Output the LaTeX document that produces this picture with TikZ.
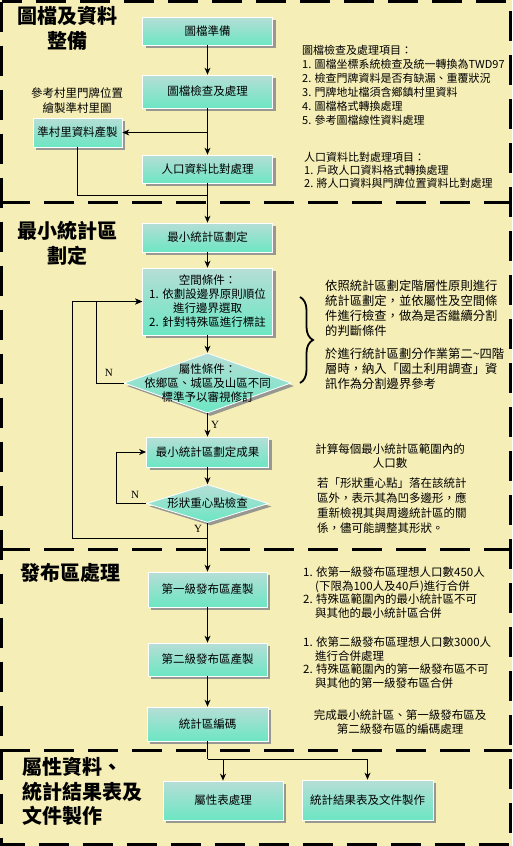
\documentclass[tikz,border=0pt]{standalone}
\usepackage{fontspec}
\setmainfont{Noto Sans CJK TC}
\newfontfamily\latinserif{Liberation Serif}
\usepackage{tikz}
\usetikzlibrary{shapes.geometric, arrows.meta, positioning, calc, shadows, decorations.pathreplacing}
\definecolor{paper}{RGB}{245,238,182}
\definecolor{boxtop}{RGB}{182,222,215}
\definecolor{boxbottom}{RGB}{108,230,195}
\definecolor{shadowgray}{RGB}{152,152,146}

\begin{document}
\begin{tikzpicture}[
    x=1pt, y=-1pt,
    box/.style={draw=white, line width=0.8pt, top color=boxtop, bottom color=boxbottom, drop shadow={shadow xshift=3pt, shadow yshift=-3pt, fill=shadowgray, opacity=1}, minimum width=130pt, align=center, font=\fontsize{11.5}{14}\selectfont},
    dia/.style={diamond, draw=white, line width=0.8pt, top color=boxtop, bottom color=boxbottom, drop shadow={shadow xshift=3pt, shadow yshift=-3pt, fill=shadowgray, opacity=1}, inner sep=0pt},
    diatext/.style={align=center, inner sep=0pt, font=\fontsize{11.5}{14}\selectfont},
    arrow/.style={->, line width=1pt, >={Stealth[length=7pt, width=6pt]}},
    line/.style={line width=1pt},
    sep/.style={line width=3pt, dash pattern=on 30pt off 14pt},
    title/.style={inner sep=0pt, font=\fontsize{20}{24.5}\selectfont\bfseries},
    note/.style={inner sep=0pt, align=left, font=\fontsize{11}{14}\selectfont},
    yn/.style={inner sep=1pt, font=\latinserif\fontsize{11}{12}\selectfont},
    brace/.style={decorate, decoration={brace, amplitude=13pt}, line width=1.8pt}
]
    \useasboundingbox (0,0) rectangle (512,846);
    \fill[paper] (0,0) rectangle (512,846);
    \draw[sep] (1.5,1.5) rectangle (510.5,844.5);
    \draw[sep] (0,202) -- (512,202);
    \draw[sep] (0,549) -- (512,549);
    \draw[sep] (0,750) -- (512,750);

    % section titles
    \node[title, align=center] (t1) at (67,28.5) {圖檔及資料\\整備};
    \node[title, align=center] (t2) at (67,243.5) {最小統計區\\劃定};
    \node[title] (t3) at (70,573) {發布區處理};
    \node[title, align=left, anchor=west] (t4) at (22,791.5) {屬性資料、\\統計結果表及\\文件製作};

    % map data preparation
    \node[box, minimum height=28pt] (prep) at (207.5,31) {圖檔準備};
    \node[box, minimum height=33pt] (check) at (207.5,91.5) {圖檔檢查及處理};
    \node[box, minimum width=89pt, minimum height=29pt] (vill) at (77.5,132.5) {準村里資料產製};
    \node[box, minimum height=28pt] (pop) at (207.5,169) {人口資料比對處理};
    \node[note, align=center, font=\fontsize{11.5}{15}\selectfont] (villnote) at (77,100.5) {參考村里門牌位置\\繪製準村里圖};
    \node[note, anchor=west] (checknote) at (302,85) {圖檔檢查及處理項目：\\1. 圖檔坐標系統檢查及統一轉換為TWD97\\2. 檢查門牌資料是否有缺漏、重覆狀況\\3. 門牌地址檔須含鄉鎮村里資料\\4. 圖檔格式轉換處理\\5. 參考圖檔線性資料處理};
    \node[note, anchor=west, font=\fontsize{11}{13}\selectfont] (popnote) at (304,170) {人口資料比對處理項目：\\1. 戶政人口資料格式轉換處理\\2. 將人口資料與門牌位置資料比對處理};

    \coordinate (split) at (check.south |- vill.east);
    \coordinate (merge) at (207.5,195);
    \draw[arrow] (prep) -- (check);
    \draw[arrow] (check) -- (pop);
    \draw[arrow] (split) -- (vill);
    \draw[line] (vill) |- (merge);

    % smallest statistical areas
    \node[box, minimum height=29pt] (mindiv) at (207.5,237.5) {最小統計區劃定};
    \node[box, minimum height=67pt] (space) at (207.5,301.5) {空間條件：\\1. 依劃設邊界原則順位\\進行邊界選取\\2. 針對特殊區進行標註};
    \node[dia, minimum width=167pt, minimum height=60pt, label={[diatext]center:{屬性條件：\\依鄉區、城區及山區不同\\標準予以審視修訂}}] (attr) at (207.5,383) {};
    \node[box, minimum width=122pt, minimum height=30pt] (result) at (207.5,452) {最小統計區劃定成果};
    \node[dia, minimum width=122pt, minimum height=38pt, label={[diatext]center:{形狀重心點檢查}}] (shape) at (207.5,503.5) {};

    \coordinate (bracetop) at (300,297);
    \coordinate (bracebot) at (300,383);
    \draw[brace] (bracetop) -- (bracebot);
    \node[note, anchor=west, font=\fontsize{12.3}{15}\selectfont] (rule1) at (325,308.5) {依照統計區劃定階層性原則進行\\統計區劃定，並依屬性及空間條\\件進行檢查，做為是否繼續分割\\的判斷條件};
    \node[note, anchor=west, font=\fontsize{12.3}{15}\selectfont] (rule2) at (325,369) {於進行統計區劃分作業第二\textasciitilde 四階\\層時，納入「國土利用調查」資\\訊作為分割邊界參考};
    \node[note, align=center, font=\fontsize{11.5}{14}\selectfont] (popcount) at (390,456) {計算每個最小統計區範圍內的\\人口數};
    \node[note, anchor=west, font=\fontsize{11.5}{15}\selectfont] (centroid) at (317,505.5) {若「形狀重心點」落在該統計\\區外，表示其為凹多邊形，應\\重新檢視其與周邊統計區的關\\係，儘可能調整其形狀。};

    \coordinate (back) at (207.5,538);
    \draw[arrow] (pop) -- (mindiv);
    \draw[arrow] (mindiv) -- (space);
    \draw[arrow] (space) -- (attr);
    \draw[arrow] (attr) -- node[yn, right=2pt] {Y} (result);
    \draw[arrow] (attr.west) -- node[yn, above=5pt, pos=0.55] {N} ++(-27,0) |- (space.west);
    \draw[arrow] (result) -- (shape);
    \draw[arrow] (shape.west) -- node[yn, above=4pt, pos=0.37] {N} ++(-30,0) |- (result.west);
    \draw[arrow] (back) -- ++(-135.5,0) |- (space.west);

    % release areas
    \node[box, minimum width=119pt, minimum height=35pt] (pub1) at (207.5,589.5) {第一級發布區產製};
    \node[box, minimum width=119pt, minimum height=33pt] (pub2) at (207.5,659.5) {第二級發布區產製};
    \node[box, minimum width=121pt, minimum height=34pt] (code) at (207.5,724) {統計區編碼};
    \node[note, anchor=west, font=\fontsize{11.5}{13.7}\selectfont] (pub1note) at (303,592.5) {1. 依第一級發布區理想人口數450人\\\hspace*{12pt}(下限為100人及40戶)進行合併\\2. 特殊區範圍內的最小統計區不可\\\hspace*{12pt}與其他的最小統計區合併};
    \node[note, anchor=west, font=\fontsize{11.5}{13.7}\selectfont] (pub2note) at (303,662.5) {1. 依第二級發布區理想人口數3000人\\\hspace*{12pt}進行合併處理\\2. 特殊區範圍內的第一級發布區不可\\\hspace*{12pt}與其他的第一級發布區合併};
    \node[note, align=center, font=\fontsize{11.5}{14}\selectfont] (codenote) at (400,722) {完成最小統計區、第一級發布區及\\第二級發布區的編碼處理};

    \draw[arrow] (shape) -- node[yn, left=4pt, pos=0.13] {Y} (pub1);
    \draw[arrow] (pub1) -- (pub2);
    \draw[arrow] (pub2) -- (code);

    % tables and documents
    \node[box, minimum width=120pt, minimum height=39pt] (attrtab) at (223,800.5) {屬性表處理};
    \node[box, minimum width=131pt, minimum height=40pt] (stat) at (367.5,800) {統計結果表及文件製作};

    \coordinate (fork) at (207.5,759);
    \draw[line] (code) -- (fork);
    \draw[arrow] (fork) -| (attrtab);
    \draw[arrow] (fork) -| (stat);
\end{tikzpicture}
\end{document}
